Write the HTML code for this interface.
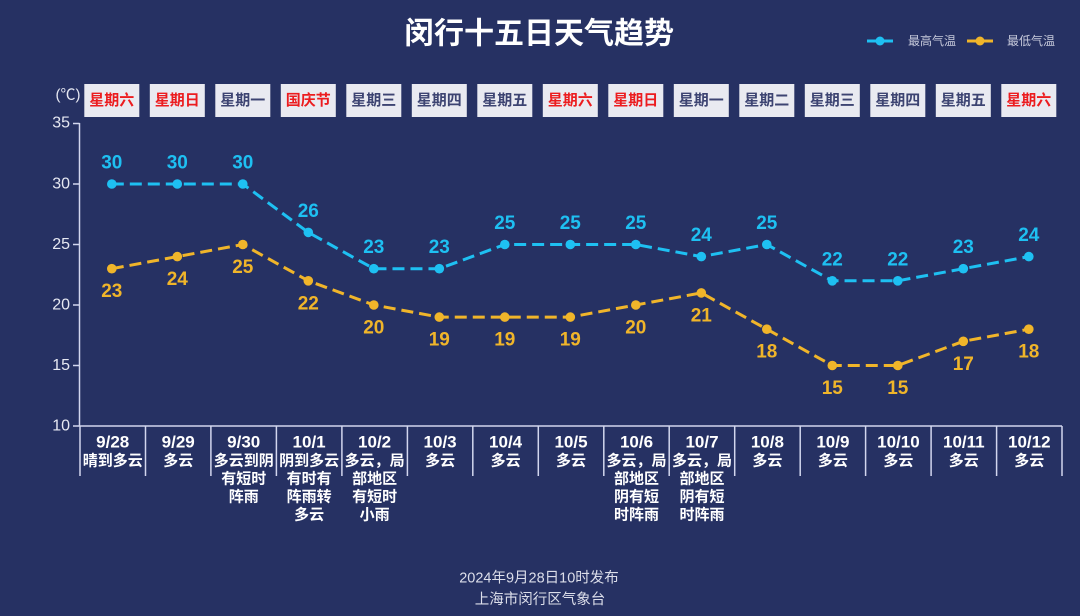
<!DOCTYPE html>
<html><head><meta charset="utf-8">
<style>
html,body{margin:0;padding:0;background:#263163;}
svg{display:block;}
text{font-family:"Liberation Sans","Noto Sans CJK SC",sans-serif;}
</style></head>
<body>
<svg width="1080" height="616" viewBox="0 0 1080 616" xmlns="http://www.w3.org/2000/svg">
<rect width="1080" height="616" fill="#263163"/>
<!-- title -->
<text x="539" y="34" text-anchor="middle" dominant-baseline="central" font-size="30" font-weight="bold" fill="#ffffff">闵行十五日天气趋势</text>
<!-- legend -->
<line x1="867" y1="41" x2="893" y2="41" stroke="#1ec0f2" stroke-width="3"/>
<circle cx="880" cy="41" r="4.5" fill="#1ec0f2"/>
<text x="908" y="41" dominant-baseline="central" font-size="12" fill="#c8cbdc">最高气温</text>
<line x1="967" y1="41" x2="993" y2="41" stroke="#f0b52a" stroke-width="3"/>
<circle cx="980" cy="41" r="4.5" fill="#f0b52a"/>
<text x="1007" y="41" dominant-baseline="central" font-size="12" fill="#c8cbdc">最低气温</text>

<!-- unit -->
<text x="68" y="95" text-anchor="middle" dominant-baseline="central" font-size="15" fill="#e6e8f2">(℃)</text>

<!-- day boxes -->
<g font-size="15" font-weight="bold" text-anchor="middle" dominant-baseline="central">
<rect x="84.3" y="84" width="55" height="33" fill="#e9eaf1"/><text x="111.8" y="100.5" fill="#ec1c1f">星期六</text>
<rect x="149.8" y="84" width="55" height="33" fill="#e9eaf1"/><text x="177.3" y="100.5" fill="#ec1c1f">星期日</text>
<rect x="215.3" y="84" width="55" height="33" fill="#e9eaf1"/><text x="242.8" y="100.5" fill="#3d4472">星期一</text>
<rect x="280.8" y="84" width="55" height="33" fill="#e9eaf1"/><text x="308.3" y="100.5" fill="#ec1c1f">国庆节</text>
<rect x="346.3" y="84" width="55" height="33" fill="#e9eaf1"/><text x="373.8" y="100.5" fill="#3d4472">星期三</text>
<rect x="411.8" y="84" width="55" height="33" fill="#e9eaf1"/><text x="439.3" y="100.5" fill="#3d4472">星期四</text>
<rect x="477.3" y="84" width="55" height="33" fill="#e9eaf1"/><text x="504.8" y="100.5" fill="#3d4472">星期五</text>
<rect x="542.8" y="84" width="55" height="33" fill="#e9eaf1"/><text x="570.3" y="100.5" fill="#ec1c1f">星期六</text>
<rect x="608.3" y="84" width="55" height="33" fill="#e9eaf1"/><text x="635.8" y="100.5" fill="#ec1c1f">星期日</text>
<rect x="673.8" y="84" width="55" height="33" fill="#e9eaf1"/><text x="701.3" y="100.5" fill="#3d4472">星期一</text>
<rect x="739.3" y="84" width="55" height="33" fill="#e9eaf1"/><text x="766.8" y="100.5" fill="#3d4472">星期二</text>
<rect x="804.8" y="84" width="55" height="33" fill="#e9eaf1"/><text x="832.3" y="100.5" fill="#3d4472">星期三</text>
<rect x="870.3" y="84" width="55" height="33" fill="#e9eaf1"/><text x="897.8" y="100.5" fill="#3d4472">星期四</text>
<rect x="935.8" y="84" width="55" height="33" fill="#e9eaf1"/><text x="963.3" y="100.5" fill="#3d4472">星期五</text>
<rect x="1001.3" y="84" width="55" height="33" fill="#e9eaf1"/><text x="1028.8" y="100.5" fill="#ec1c1f">星期六</text>
</g>

<!-- y axis -->
<g stroke="#d2d6ee" stroke-width="1.5" fill="none">
<line x1="79.5" y1="123" x2="79.5" y2="426"/>
<line x1="73" y1="123.5" x2="79.5" y2="123.5"/>
<line x1="73" y1="184" x2="79.5" y2="184"/>
<line x1="73" y1="244.5" x2="79.5" y2="244.5"/>
<line x1="73" y1="305" x2="79.5" y2="305"/>
<line x1="73" y1="365.5" x2="79.5" y2="365.5"/>
<line x1="73" y1="426" x2="1062" y2="426"/>
<!-- category separators -->
<line x1="80" y1="426" x2="80" y2="476"/>
<line x1="145.5" y1="426" x2="145.5" y2="476"/>
<line x1="210.9" y1="426" x2="210.9" y2="476"/>
<line x1="276.4" y1="426" x2="276.4" y2="476"/>
<line x1="341.9" y1="426" x2="341.9" y2="476"/>
<line x1="407.4" y1="426" x2="407.4" y2="476"/>
<line x1="472.8" y1="426" x2="472.8" y2="476"/>
<line x1="538.3" y1="426" x2="538.3" y2="476"/>
<line x1="603.8" y1="426" x2="603.8" y2="476"/>
<line x1="669.2" y1="426" x2="669.2" y2="476"/>
<line x1="734.7" y1="426" x2="734.7" y2="476"/>
<line x1="800.2" y1="426" x2="800.2" y2="476"/>
<line x1="865.6" y1="426" x2="865.6" y2="476"/>
<line x1="931.1" y1="426" x2="931.1" y2="476"/>
<line x1="996.6" y1="426" x2="996.6" y2="476"/>
<line x1="1062" y1="426" x2="1062" y2="476"/>
</g>
<g font-size="16" fill="#e6e8f2" text-anchor="end" dominant-baseline="central">
<text x="70" y="123">35</text>
<text x="70" y="184">30</text>
<text x="70" y="244.5">25</text>
<text x="70" y="305">20</text>
<text x="70" y="365.5">15</text>
<text x="70" y="426">10</text>
</g>

<!-- series lines -->
<polyline fill="none" stroke="#1ec0f2" stroke-width="3" stroke-dasharray="12 6" points="111.8,184 177.3,184 242.8,184 308.3,232.4 373.8,268.7 439.3,268.7 504.8,244.5 570.3,244.5 635.8,244.5 701.3,256.6 766.8,244.5 832.3,280.8 897.8,280.8 963.3,268.7 1028.8,256.6"/>
<polyline fill="none" stroke="#f0b52a" stroke-width="3" stroke-dasharray="12 6" points="111.8,268.7 177.3,256.6 242.8,244.5 308.3,280.8 373.8,305 439.3,317.1 504.8,317.1 570.3,317.1 635.8,305 701.3,292.9 766.8,329.2 832.3,365.5 897.8,365.5 963.3,341.3 1028.8,329.2"/>
<g fill="#1ec0f2">
<circle cx="111.8" cy="184" r="4.8"/><circle cx="177.3" cy="184" r="4.8"/><circle cx="242.8" cy="184" r="4.8"/><circle cx="308.3" cy="232.4" r="4.8"/><circle cx="373.8" cy="268.7" r="4.8"/><circle cx="439.3" cy="268.7" r="4.8"/><circle cx="504.8" cy="244.5" r="4.8"/><circle cx="570.3" cy="244.5" r="4.8"/><circle cx="635.8" cy="244.5" r="4.8"/><circle cx="701.3" cy="256.6" r="4.8"/><circle cx="766.8" cy="244.5" r="4.8"/><circle cx="832.3" cy="280.8" r="4.8"/><circle cx="897.8" cy="280.8" r="4.8"/><circle cx="963.3" cy="268.7" r="4.8"/><circle cx="1028.8" cy="256.6" r="4.8"/>
</g>
<g fill="#f0b52a">
<circle cx="111.8" cy="268.7" r="4.8"/><circle cx="177.3" cy="256.6" r="4.8"/><circle cx="242.8" cy="244.5" r="4.8"/><circle cx="308.3" cy="280.8" r="4.8"/><circle cx="373.8" cy="305" r="4.8"/><circle cx="439.3" cy="317.1" r="4.8"/><circle cx="504.8" cy="317.1" r="4.8"/><circle cx="570.3" cy="317.1" r="4.8"/><circle cx="635.8" cy="305" r="4.8"/><circle cx="701.3" cy="292.9" r="4.8"/><circle cx="766.8" cy="329.2" r="4.8"/><circle cx="832.3" cy="365.5" r="4.8"/><circle cx="897.8" cy="365.5" r="4.8"/><circle cx="963.3" cy="341.3" r="4.8"/><circle cx="1028.8" cy="329.2" r="4.8"/>
</g>

<!-- high labels -->
<g font-size="19" font-weight="bold" fill="#1ec0f2" text-anchor="middle" dominant-baseline="central">
<text x="111.8" y="163">30</text><text x="177.3" y="163">30</text><text x="242.8" y="163">30</text><text x="308.3" y="211.4">26</text><text x="373.8" y="247.7">23</text><text x="439.3" y="247.7">23</text><text x="504.8" y="223.5">25</text><text x="570.3" y="223.5">25</text><text x="635.8" y="223.5">25</text><text x="701.3" y="235.6">24</text><text x="766.8" y="223.5">25</text><text x="832.3" y="259.8">22</text><text x="897.8" y="259.8">22</text><text x="963.3" y="247.7">23</text><text x="1028.8" y="235.6">24</text>
</g>
<!-- low labels -->
<g font-size="19" font-weight="bold" fill="#f0b52a" text-anchor="middle" dominant-baseline="central">
<text x="111.8" y="291.7">23</text><text x="177.3" y="279.6">24</text><text x="242.8" y="267.5">25</text><text x="308.3" y="303.8">22</text><text x="373.8" y="328">20</text><text x="439.3" y="340.1">19</text><text x="504.8" y="340.1">19</text><text x="570.3" y="340.1">19</text><text x="635.8" y="328">20</text><text x="701.3" y="315.9">21</text><text x="766.8" y="352.2">18</text><text x="832.3" y="388.5">15</text><text x="897.8" y="388.5">15</text><text x="963.3" y="364.3">17</text><text x="1028.8" y="352.2">18</text>
</g>

<!-- dates -->
<g font-size="17" font-weight="bold" fill="#ffffff" text-anchor="middle" dominant-baseline="central">
<text x="112.7" y="442">9/28</text><text x="178.2" y="442">9/29</text><text x="243.7" y="442">9/30</text><text x="309.1" y="442">10/1</text><text x="374.6" y="442">10/2</text><text x="440.1" y="442">10/3</text><text x="505.6" y="442">10/4</text><text x="571" y="442">10/5</text><text x="636.5" y="442">10/6</text><text x="702" y="442">10/7</text><text x="767.4" y="442">10/8</text><text x="832.9" y="442">10/9</text><text x="898.4" y="442">10/10</text><text x="963.8" y="442">10/11</text><text x="1029.3" y="442">10/12</text>
</g>
<!-- weather -->
<g font-size="15" font-weight="bold" fill="#ffffff" text-anchor="middle" dominant-baseline="central">
<text x="112.7" y="461">晴到多云</text>
<text x="178.2" y="461">多云</text>
<text x="243.7" y="461">多云到阴</text><text x="243.7" y="479">有短时</text><text x="243.7" y="497">阵雨</text>
<text x="309.1" y="461">阴到多云</text><text x="309.1" y="479">有时有</text><text x="309.1" y="497">阵雨转</text><text x="309.1" y="515">多云</text>
<text x="374.6" y="461">多云，局</text><text x="374.6" y="479">部地区</text><text x="374.6" y="497">有短时</text><text x="374.6" y="515">小雨</text>
<text x="440.1" y="461">多云</text>
<text x="505.6" y="461">多云</text>
<text x="571" y="461">多云</text>
<text x="636.5" y="461">多云，局</text><text x="636.5" y="479">部地区</text><text x="636.5" y="497">阴有短</text><text x="636.5" y="515">时阵雨</text>
<text x="702" y="461">多云，局</text><text x="702" y="479">部地区</text><text x="702" y="497">阴有短</text><text x="702" y="515">时阵雨</text>
<text x="767.4" y="461">多云</text>
<text x="832.9" y="461">多云</text>
<text x="898.4" y="461">多云</text>
<text x="963.8" y="461">多云</text>
<text x="1029.3" y="461">多云</text>
</g>

<!-- footer -->
<g font-size="14.5" fill="#dcdeea" text-anchor="middle" dominant-baseline="central">
<text x="539" y="578.5">2024年9月28日10时发布</text>
<text x="540" y="600">上海市闵行区气象台</text>
</g>
</svg>
</body></html>
